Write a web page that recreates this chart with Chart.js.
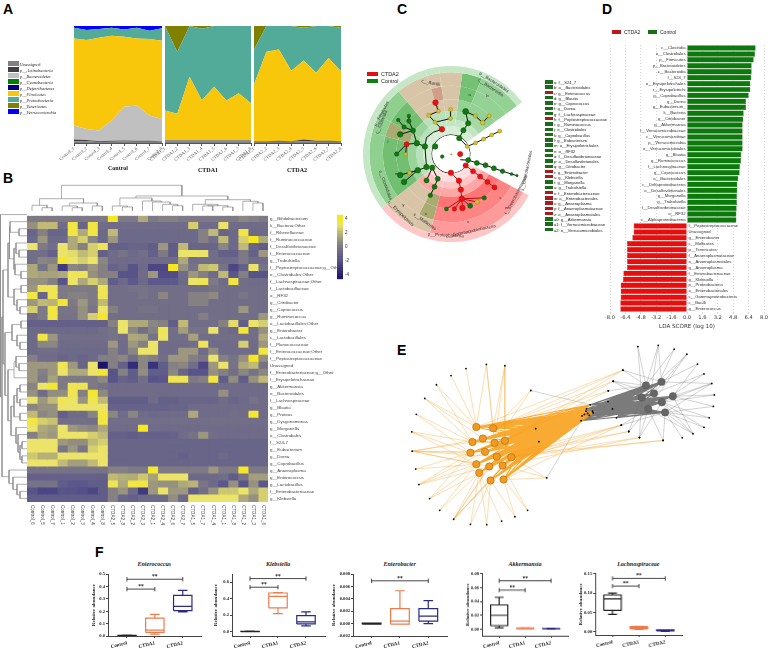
<!DOCTYPE html>
<html>
<head>
<meta charset="utf-8">
<script src="https://cdn.jsdelivr.net/npm/chart.js@4/dist/chart.umd.min.js"></script>
<style>
html, body { margin: 0; padding: 0; background: #fff; }
body { position: relative; width: 770px; height: 663px; overflow: hidden; font-family: "Liberation Sans", sans-serif; }
canvas { position: absolute; }
.txt { position: absolute; white-space: nowrap; line-height: 1; }
.swatch { position: absolute; }
</style>
</head>
<body>
<script>
// ---------- panel A: phyla share per sample (%)
const phylumNames = ['Unassigned', 'p__Actinobacteria', 'p__Bacteroidetes', 'p__Cyanobacteria', 'p__Deferribacteres', 'p__Firmicutes', 'p__Proteobacteria', 'p__Tenericutes', 'p__Verrucomicrobia'];
const phylumColors = ['#808080', '#404040', '#c0c0c0', '#008000', '#000080', '#f8c60a', '#52aa98', '#808000', '#0000ff'];
const noShare = [0, 0, 0, 0, 0, 0, 0, 0];
const controlStack = [
    [1.5, 1.5, 0.8, 1, 1.2, 1, 1, 1],
    [1.5, 1, 0.8, 1, 1, 1, 1, 0.5],
    [11.9, 9.5, 9, 17.4, 28.7, 30, 21.4, 19.1],
    noShare, noShare,
    [74.5, 76, 79.4, 72.3, 60, 57.4, 65.5, 66.8],
    [9.1, 8.5, 7.5, 6.8, 6.1, 9.1, 7.1, 10.6],
    noShare,
    [2, 3.5, 2.5, 1.5, 3, 1.5, 4, 2]
];
const ctda1Stack = [
    [1.2, 1.2, 1.2, 1.2, 1.2, 1.2, 1.2, 1.2],
    [1, 1, 1, 1, 1, 1, 1, 1],
    [0.3, 0.3, 0.3, 0.3, 0.3, 0.3, 0.3, 0.3],
    noShare, noShare,
    [25.2, 22.6, 54.1, 34.1, 45.5, 33.8, 40.1, 31.5],
    [72.3, 52.6, 43.4, 61.1, 52, 63.7, 57.4, 66],
    [0, 22.3, 0, 2.3, 0, 0, 0, 0],
    noShare
];
const ctda2Stack = [
    [1, 1, 1, 1, 1.5, 1, 1, 1],
    [0.5, 0.5, 1, 0.5, 1.5, 1, 1, 0.5],
    noShare, noShare, noShare,
    [48.5, 76.5, 78, 60.2, 67.6, 58, 70.6, 59.9],
    [30, 22, 20, 38.3, 27.9, 40, 27.4, 37.1],
    [20, 0, 0, 0, 1.5, 0, 0, 1.5],
    noShare
];

// ---------- panel B: heatmap
const heatCols = ['Control_6', 'Control_5', 'Control_7', 'Control_1', 'Control_2', 'Control_3', 'Control_4', 'Control_8', 'CTDA2_5', 'CTDA2_8', 'CTDA2_2', 'CTDA2_3', 'CTDA2_1', 'CTDA2_4', 'CTDA2_6', 'CTDA2_7', 'CTDA1_5', 'CTDA1_7', 'CTDA1_4', 'CTDA1_1', 'CTDA1_8', 'CTDA1_2', 'CTDA1_3', 'CTDA1_6'];
const heatRows = ['g__Bifidobacterium', 'k__Bacteria;Other', 'f__Rikenellaceae', 'f__Ruminococcaceae', 'f__Desulfovibrionaceae', 'f__Enterococcaceae', 'g__Trabulsiella', 'f__Peptostreptococcaceae;g__Other', 'o__Clostridiales;Other', 'f__Lachnospiraceae;Other', 'f__Lactobacillaceae', 'o__RF32', 'g__Citrobacter', 'g__Coprococcus', 'g__Ruminococcus', 'o__Lactobacillales;Other', 'g__Enterobacter', 'c__Lactobacillales', 'f__Planococcaceae', 'f__Enterococcaceae;Other', 'f__Peptostreptococcaceae', 'Unassigned', 'f__Enterobacteriaceae;g__Other', 'f__Erysipelotrichaceae', 'g__Akkermansia', 'o__Bacteroidales', 'f__Lachnospiraceae', 'g__Blautia', 'g__Proteus', 'g__Dysgonomonas', 'g__Morganella', 'o__Clostridiales', 'f__S24-7', 'g__Eubacterium', 'g__Dorea', 'g__Coprobacillus', 'g__Anaeroplasma', 'g__Enterococcus', 'g__Lactobacillus', 'f__Enterobacteriaceae', 'g__Klebsiella'];
const heatValues = [
    [0,0,0,0,0,0,0,0,4,0,0,1.5,0,0.3,0.3,0,0,0,0,0,0,0.5,0.3,0],
    [0.8,2,2,-0.7,3.5,-1,3.5,-0.7,-0.7,-0.7,-0.7,-0.7,-0.7,-0.7,-0.7,-0.7,2.5,-0.7,-0.7,3,-0.7,-0.7,-0.7,-0.7],
    [-1,0.3,-1,-1,3.5,1.5,3.5,-0.8,2,-0.8,-0.8,-0.8,-0.8,-0.8,-0.8,-0.8,-0.8,0.3,2,-1,-0.8,3.5,-0.8,-0.8],
    [-0.8,1,-0.8,-0.8,1.5,2.5,0.5,-0.8,1,-0.8,-0.8,-0.8,-0.8,-0.8,-0.8,-0.8,-0.8,0.3,-0.5,2,-0.8,2.5,4,1.5],
    [3,0,-0.5,3,1.5,0.3,2.5,3.3,-1.3,-1.3,-1,-1,-1.5,1,-1.5,2,-1,-1,-1,0.5,-0.8,2,-1,-1.5],
    [-0.5,-0.5,-1.3,3,2.8,2,2.5,-1.3,-0.7,-0.3,-0.8,-0.5,-1.3,0,-1.5,3,3,3,-0.5,-1.3,-1.3,0,-1.3,1],
    [-0.5,0.5,0.3,3.8,3,2.5,3,0.5,-0.7,-0.7,-0.7,-0.7,-0.7,-0.7,-0.7,1.5,-0.5,-0.5,-0.5,-0.7,-0.7,0,-0.7,-0.7],
    [1.5,-0.3,1,-3,0.5,0.3,1,0.3,-1.2,-0.8,-2,-0.8,-2.5,-2.5,4,0.8,-0.3,2,2.3,-0.3,-2.5,-1.3,3,-0.3],
    [1.5,1.3,1.3,1.5,3.3,3.3,0.8,0.3,0.3,-2,-2,-0.7,1,-2.3,-2.3,-0.7,1,0.2,-0.7,2,-1.8,0.2,-2,-2],
    [0.8,0.8,0.3,-2,3,1.5,2.5,1.5,-1.5,-0.8,-1.7,-0.8,-1.7,-1.7,-1.7,-0.8,3,3.3,0,-0.7,3.5,-0.5,-0.7,-0.7],
    [1,3.3,3.3,0,0,0,0,3.3,-0.5,-0.5,-0.3,-0.3,-0.5,-0.5,-0.5,-0.5,-0.5,-0.5,-0.3,-0.5,-0.5,-0.5,-0.5,-0.5],
    [3.5,-1,3.3,0,0.3,0.3,0,3.3,-0.5,-0.5,-0.5,-0.3,-0.5,0.5,-0.5,-0.5,0.3,0.3,0.6,-0.5,-0.5,-0.2,-0.5,-0.5],
    [1,2,1.8,3.8,0,1,0,2,-0.5,-0.5,-0.5,-0.5,-0.5,-0.5,-0.5,-0.5,0.3,0.3,-0.5,-0.5,-0.5,-0.5,-0.5,-0.5],
    [2.5,0,3.5,-0.2,-0.2,0.8,-0.2,3,0.3,-0.5,-0.5,-0.3,-0.3,-0.5,-0.5,-0.5,-0.5,-0.5,-0.5,-0.5,-0.5,1,-0.5,-0.5],
    [-0.5,0,3.5,-0.3,-0.3,0.8,2.5,3.8,-0.5,-0.5,-0.5,-0.5,-0.5,-0.5,-0.5,-0.5,-0.5,0.2,-0.5,-0.5,-0.5,-0.5,-0.5,1],
    [-1.3,-1.3,-1.3,-1.3,-1.3,-1.3,-1.3,-1.3,0.3,3,1.5,1.5,0.5,0.3,-1.5,2,-0.5,-0.5,-0.5,0.3,2.8,-1.5,3,2.5],
    [-0.8,-0.8,-0.8,-0.8,-0.8,-0.8,-0.8,-0.5,-0.3,3,0.5,-0.5,0.3,3.3,-0.5,1.2,-0.3,-0.3,3,-0.5,-0.8,3.8,-0.5,0.8],
    [-0.8,3.5,1,-0.5,-0.5,-0.5,-0.5,-0.5,-0.3,-0.5,1.5,1.3,-0.3,3,-0.5,-0.5,1.3,-0.5,-0.5,-0.5,-0.5,-0.5,-0.5,1.5],
    [-0.8,0.5,0.5,-0.7,-0.7,-0.7,-0.7,-0.7,1,-0.7,1,0.3,3,-0.7,-0.7,-0.7,-0.5,3.3,-0.7,-0.7,-0.7,2.5,-0.7,1],
    [-0.8,-0.5,-0.5,-0.8,-0.8,-0.8,-0.8,-0.8,0.3,-0.7,0.5,3,3,-0.7,-0.7,1,1,-0.7,0.7,-0.7,-0.7,-0.7,-0.7,3.5],
    [0.2,-0.7,-0.7,-1,-0.8,-1,-0.8,0.2,0.2,0.5,-0.5,0.5,0.2,-0.5,1,1,0.2,-0.2,3,0.2,-0.3,0.8,4,0.8],
    [1,1,1,3.3,1,-1,3,-4.5,0.2,-1.3,-3.5,0.5,-3.3,-1.5,0.3,0.5,-0.5,-2.5,1,3,-0.3,1.5,2,-0.3],
    [1,0.2,1,3,1.5,1.5,3,3.7,-2,0.3,-1.5,0.7,-1.5,-1.5,0.5,-1,-2,-2,0.8,0.2,-0.5,0.5,-0.3,0.5],
    [1,0,1.3,0,0,0,0,0.6,-2,-1.2,-1.5,-0.5,-2,-1.8,3.3,3.3,0,0.3,3.5,-1.5,0.7,-1.5,0.8,2],
    [0.4,3,3.7,0,3.3,3.3,0,-0.3,-0.7,-0.7,-0.7,-0.7,-0.7,-0.7,-0.7,-0.7,-0.7,-0.7,-0.7,-0.7,-0.7,-0.7,-0.7,-0.7],
    [0.8,-0.7,0.7,0.7,3.3,0.2,3.8,0.6,-0.7,-0.7,-0.7,-0.7,-0.7,-0.7,-0.7,-0.7,-0.7,-0.7,-0.7,0.8,-0.7,-0.7,-0.7,-0.7],
    [3,1,2,3.3,3,0.9,3.3,2,-1.5,-1.5,-1.5,-1.5,-0.7,-1.3,-1.3,-1,-1,-1,-1,-0.7,-1,-0.8,-0.3,-0.7],
    [0.5,0.8,0.8,3,3,3,3,3,-1.2,-1.2,-1.2,-1.2,-1.2,-1.2,-1,-1,-0.7,-0.7,-0.7,-0.7,-0.7,-0.7,-0.7,-0.7],
    [2,0.5,0.8,-1.3,-0.7,-0.7,0.4,3.5,0.5,-0.7,0.5,-0.7,-0.8,-0.6,-0.7,-0.7,1.5,-0.7,-0.7,-0.7,-0.5,-0.7,3.8,-0.7],
    [3.5,2.5,2.2,-0.5,-0.5,-0.5,-0.5,3.5,-0.5,-0.5,-0.5,-0.5,-0.5,-0.5,-0.5,-0.5,-0.5,-0.5,-0.5,-0.5,-0.5,-0.5,-0.5,-0.5],
    [3,1.5,1.2,3,1,0.7,0.5,1.5,-0.7,-0.7,-0.7,4,-0.7,-0.7,-0.7,-0.7,-0.7,-0.7,-0.7,-0.7,-0.7,-0.7,-0.7,-0.7],
    [0.2,1.3,1,3,3,3,2.5,2,-1.3,-1.3,-1.5,-1.3,-1.3,-1.3,-1.2,-0.7,-0.3,1,-0.5,-0.7,-0.7,-0.7,-0.7,-0.7],
    [3,3,3,1,0.7,0.7,2,2.5,-1,-1,-1,-1,-1,-1,-1,-1,-1,-1,-1,-1,-1,-1,-1,-1],
    [3,3,3,-0.2,1,-0.2,2.5,3,-1,-1,-1,-1,-1,-1,-1,-1,-1,-1,-1,-1,-1,-1,-1,-1],
    [2.3,1.7,1.7,3,3,3,3,3,-1,-1,-1,-1,-1,-1,-1,-1.3,-1,-1,-1,-0.8,-1,-1,-1,-1],
    [3,3,3,2,1.2,1.2,2,3,-1,-1,-1,-1,-1,-1,-1,-1,-1,-1,-1,-1,-1,-1,-1,-1],
    [-0.3,-0.3,-0.3,-0.3,-0.3,-0.3,-0.3,-0.3,0.3,0.3,0,0,3.8,0,0,0,0,0,1,0,0,3.8,0,0],
    [-1.3,-1.3,-1.3,-1.3,-1.3,-1.3,-1.3,-1.3,2,1.7,1.6,2.3,1.3,3,3,3,-0.8,-0.8,-0.8,-0.5,-1.5,-0.3,1.2,1.2],
    [-0.3,-0.3,-0.3,-1.5,-1.8,-1.8,-1.5,-1.5,3.3,1.5,3.5,3.5,1,0.8,0.8,1.5,1.8,-0.2,-0.8,-1.8,0.8,-2,0.8,-1.8],
    [-2,-2.5,-2.5,-2,-2,-2.2,-2.5,-1.5,0.3,0.9,-0.8,-3,1,3,1,1,-1.5,-0.5,0.8,2.3,2.3,3,1.5,2.5],
    [-1.5,-1.5,-1.5,-1.5,-1.5,-1.5,-1.5,-1.5,0.3,-1,-1.3,-0.8,-0.8,-0.8,0.7,-0.8,3,3,3,3,3,1.5,0.8,2.5]
];
const colorbarSteps = [-4.6,-4.2,-3.8,-3.4,-3,-2.6,-2.2,-1.8,-1.4,-1,-0.6,-0.2,0.2,0.6,1,1.4,1.8,2.2,2.6,3,3.4,3.8,4.2];
// merges: [a, b, height]; a, b are leaves, or 100 + index of an earlier merge
const colMerges = [[1,2,3.3],[0,100,5.7],[4,5,3.3],[3,102,5],[6,7,5],[103,104,8],[101,105,12.3],[9,10,4],[8,107,5],[14,15,5.3],[13,109,6.7],[12,110,9],[11,111,10],[108,112,13],[17,18,5],[19,20,4],[114,115,5.3],[16,116,6.7],[22,23,8],[21,118,9.7],[117,119,11.3],[113,120,15],[106,121,25.7]];
const rowMerges = [[2,3,8],[1,100,17],[5,6,8],[4,102,11],[8,9,6],[7,104,12],[103,105,13],[101,106,17.5],[10,11,6],[13,14,7],[12,109,10],[108,110,13],[107,111,19],[15,16,6],[18,19,7],[17,114,10],[113,115,15],[21,22,8],[20,117,11],[23,118,13],[24,25,7],[26,27,7],[120,121,10],[28,29,7],[122,123,13],[32,33,5],[34,35,5],[125,126,7],[31,127,9],[30,128,11],[124,129,16],[119,130,19],[116,131,22],[112,132,24],[39,40,7],[38,134,10],[37,135,14],[36,136,18],[133,137,25],[0,138,26.5]];

// ---------- panel C: cladogram
const claSpans = [14, 32, 64, 77, 13, 24, 53, 13, 22, 23, 9, 16];
const claRingWeights = [6.3, 13.4, 13.3, 11.7, 8.3, 6.7, 8, 0.7];
const claRingColors = [
    ['#c6e7c6','#c6e7c6','#fff','#ffc6c6','#ffc6c6','#ffc6c6','#c6e7c6','#c6e7c6','#c6e7c6','#c6e7c6','#c6e7c6','#c6e7c6'],
    ['#74c074','#94d194','#fff','#ff9a9a','#d8c4a6','#d8c4a6','#8fd08f','#8fd08f','#8fd08f','#d8c4a6','#d8c4a6','#d8c4a6'],
    ['#74c074','#94d194','#fff','#ff8484','#a9ab72','#d8c4a6','#72bf72','#a9ab72','#72bf72','#d8c4a6','#cf9f8a','#d8c4a6'],
    ['#94d194','#94d194','#fff','#ff7474','#a9ab72','#d8c4a6','#72bf72','#a9ab72','#72bf72','#d8c4a6','#d8c4a6','#d8c4a6'],
    ['#a6d9a6','#a6d9a6','#fff','#ffa6a6','#ffa6a6','#ffa6a6','#9ad49a','#9ad49a','#9ad49a','#b9e1b9','#b9e1b9','#b9e1b9'],
    ['#c4e5c4','#c4e5c4','#fff','#ffc4c4','#ffc4c4','#ffc4c4','#b9e1b9','#b9e1b9','#b9e1b9','#c4e5c4','#c4e5c4','#c4e5c4'],
    ['#d5edd5','#d5edd5','#fff','#ffe0e0','#ffe0e0','#ffe0e0','#d5edd5','#d5edd5','#d5edd5','#d5edd5','#d5edd5','#d5edd5'],
    ['#000','#000','#000','#000','#000','#000','#000','#000','#000','#000','#000','#000']
];
const claGreen = [[342,412,2.6],[355,387,2.6],[370,365,2.6],[362,328,3],[267,438,2.8],[235,438,2.8],[210,428,2.8],[198,388,2.5],[185,358,2.2],[170,377,2.2],[158,400,2.8],[152,355,1.8],[185,342,1.8],[158,528,2.8],[170,550,2.8],[213,513,2.8],[240,503,2.8],[147,462,2.2],[289,470,1.8],[370,481,2.5],[397,490,2.5],[424,497,2.5],[450,507,2.5],[477,516,2.2],[505,525,1.5],[522,530,1.2],[258,505,2.6],[240,545,2.5],[265,565,2.5],[275,540,2.5],[252,592,2.2],[302,635,2],[376,625,2.5],[420,600,2.2]];
const claYellow = [[392,342,2],[415,363,2.3],[435,342,2.1],[367,438,2],[393,427,2],[418,415,2],[443,402,2],[468,390,2],[267,362,2],[247,340,2.1],[277,327,2],[315,350,2],[315,322,2],[175,463,1.8],[187,521,2],[398,613,2.3],[317,463,0.7]];
const claRed = [[288,384,2.8],[268,300,2.8],[178,431,2.5],[345,462,2.6],[362,498,2.6],[385,516,2.5],[407,533,2.5],[430,550,2.5],[452,567,2.5],[316,521,2.7],[341,546,2.7],[347,574,2.7],[350,603,2.8],[327,635,2.2],[352,632,2.8]];
const claBlackLinks = [
    [[342,412],[355,387],[370,365],[362,328],[392,342],[415,363],[435,342]],
    [[288,384],[267,362],[247,340],[277,327],[268,300]],
    [[267,362],[315,350],[315,322]],
    [[235,438],[210,428],[198,388],[185,358],[185,342]],
    [[198,388],[170,377],[152,355]],
    [[198,388],[158,400]],
    [[210,428],[178,431],[147,462]],
    [[178,431],[175,463]],
    [[235,438],[240,503],[213,513],[187,521]],
    [[213,513],[158,528]],
    [[213,513],[170,550]],
    [[258,505],[240,545]],
    [[258,505],[275,540],[265,565],[252,592]],
    [[342,412],[367,438],[393,427],[418,415],[443,402],[468,390]],
    [[345,480],[370,481],[397,490],[424,497],[450,507],[477,516],[505,525],[522,530]],
    [[235,438],[240,410],[262,393],[288,384]]
];
const claRedLinks = [
    [[362,498],[385,516],[407,533],[430,550],[452,567]],
    [[316,521],[341,546],[347,574],[350,603],[327,635]],
    [[350,603],[352,632]], [[350,603],[302,635]], [[350,603],[376,625]], [[350,603],[398,613]], [[350,603],[420,600]]
];
const claCladeText = [
    ['p__Bacteroidetes',450,236,33], ['c__Bacteroidia',440,253,33], ['c__Bacilli',253,238,12],
    ['p__Firmicutes',100,335,-62], ['c__Clostridia',100,362,-68], ['o__Clostridiales',112,560,70],
    ['c__Erysipelotrichi',160,650,45], ['c__Mollicutes',235,675,35], ['p__Proteobacteria',300,718,3],
    ['c__Gammaproteobacteria',378,705,-12], ['o__Enterobacteriales',552,515,-78], ['f__Enterobacteriaceae',520,590,-62],
    ['a',375,275,0], ['b',430,280,0], ['j',120,420,0], ['m',147,525,0], ['x',238,650,0], ['y',168,622,0], ['v',370,675,0], ['w',490,630,0], ['s',470,600,0]
];
const claLegendLetters = ['a','b','c','d','e','f','g','h','i','j','k','l','m','n','o','p','q','r','s','t','u','v','w','x','y','z','a0','a1','a2'];
const claLegendNames = ['f__S24_7','o__Bacteroidales','g__Enterococcus','g__Blautia','g__Coprococcus','g__Dorea','f__Lachnospiraceae','f__Peptostreptococcaceae','g__Ruminococcus','o__Clostridiales','g__Coprobacillus','g__Eubacterium','o__Erysipelotrichales','o__RF32','f__Desulfovibrionaceae','o__Desulfovibrionales','g__Citrobacter','g__Enterobacter','g__Klebsiella','g__Morganella','g__Trabulsiella','f__Enterobacteriaceae','o__Enterobacteriales','g__Anaeroplasma','f__Anaeroplasmataceae','o__Anaeroplasmatales','g__Akkermansia','f__Verrucomicrobiaceae','o__Verrucomicrobiales'];
const claLegendRed = ['c','h','r','s','v','w','x','y','z'];

// ---------- panel D: LDA scores
const ldaNames = ['c__Clostridia','o__Clostridiales','p__Firmicutes','p__Bacteroidetes','c__Bacteroidia','f__S24_7','o__Erysipelotrichales','c__Erysipelotrichi','g__Coprobacillus','g__Dorea','g__Eubacterium_','k__Bacteria','g__Citrobacter','g__Akkermansia','f__Verrucomicrobiaceae','c__Verrucomicrobiae','p__Verrucomicrobia','o__Verrucomicrobiales','g__Blautia','g__Ruminococcus','f__Lachnospiraceae','g__Coprococcus','o__Bacteroidales','c__Deltaproteobacteria','o__Desulfovibrionales','g__Morganella','g__Trabulsiella','f__Desulfovibrionaceae','o__RF32','c__Alphaproteobacteria','f__Peptostreptococcaceae','Unassigned','g__Enterobacter','c__Mollicutes','p__Tenericutes','f__Anaeroplasmataceae','o__Anaeroplasmatales','g__Anaeroplasma','f__Enterobacteriaceae','g__Klebsiella','p__Proteobacteria','o__Enterobacteriales','c__Gammaproteobacteria','c__Bacilli','g__Enterococcus'];
const ldaScores = [7.13,7.07,6.93,6.72,6.72,6.68,6.58,6.58,6.41,6.13,6.13,5.89,5.85,5.78,5.78,5.78,5.78,5.78,5.64,5.61,5.5,5.47,5.33,5.23,5.23,5.19,5.19,5.16,5.13,5.13,-5.54,-5.54,-5.68,-6.23,-6.23,-6.23,-6.23,-6.23,-6.61,-6.65,-6.89,-6.89,-6.89,-6.93,-6.93];
const ldaTicks = [-8,-6.4,-4.8,-3.2,-1.6,0,1.6,3.2,4.8,6.4,8];

// ---------- panel E: network (positions)
const netOrangeHubs = [[252,275],[304,279],[240,322],[272,311],[308,325],[340,318],[234,356],[279,353],[315,368],[360,370],[252,392],[292,399],[333,396],[261,419],[296,443],[336,440]];
const netGreyHubs = [[775,144],[823,133],[800,169],[762,182],[858,178],[824,197],[782,218],[834,229]];
const netCore = [[595,232],[590,225],[600,238],[578,240],[575,255],[585,235],[610,225],[603,205],[612,230],[592,218]];
const netMiddle = [[435,280],[445,321],[672,218],[684,246],[658,195]];
const netOrangeLeaves = [[283,78],[340,82],[220,91],[174,113],[129,142],[93,185],[67,235],[53,290],[54,351],[65,407],[75,456],[108,500],[139,537],[182,565],[234,581],[284,582],[330,571],[371,557],[410,537],[420,160],[469,435],[704,96],[674,131],[659,161],[699,269],[722,289],[755,308],[828,317]];
const netOrangeLinks = [[0,1,4],[1,4,5],[0],[0],[0,2],[0,2,3],[2,6],[2,6,10],[2,3,6,7,10,11,8],[6,10],[6,7,10,11],[6,10,13],[10,13],[13,11,12,9,8,14],[13,14],[13,14],[13],[14,15],[15,12],[1,4],[12,15,9],[1,0,5],[1,5],[5,1],[15,9,12,8],[9,8],[9,12],[9,8]];
const netGreyLeaves = [[750,22],[813,18],[862,30],[901,46],[934,77],[954,108],[978,138],[986,174],[983,210],[970,246],[954,276],[920,296],[887,309],[828,317],[755,308],[722,289],[699,269],[704,96],[674,131],[659,161]];
const netGreyLinks = [[0,3],[1,0,6],[2,0],[3,2,6],[4,1],[5,2],[1,4,5,7],[4,5],[4,7],[7,5],[7,5],[7,6,4,5],[7],[7,6],[3,6,5],[6,3],[6,7],[0,1],[0,3,2],[0]];

// ---------- panel F: boxes as [low, q1, median, q3, high] per group
const groupNames = ['Control', 'CTDA1', 'CTDA2'];
const enterococcusBoxes = [[0.003,0.004,0.005,0.006,0.007],[0.015,0.03,0.048,0.145,0.175],[0.195,0.205,0.24,0.33,0.37]];
const klebsiellaBoxes = [[0,0.001,0.003,0.005,0.006],[0.22,0.29,0.43,0.47,0.475],[0.07,0.095,0.12,0.195,0.24]];
const enterobacterBoxes = [[-0.0001,-0.0001,0,0.0001,0.0001],[-0.0001,-0.0001,0.0004,0.0024,0.0053],[0,0.0004,0.0012,0.0024,0.0037]];
const akkermansiaBoxes = [[0.002,0.005,0.02,0.035,0.046],[0.0003,0.0005,0.001,0.0015,0.002],[0.0002,0.0004,0.0006,0.001,0.0012]];
const lachnoBoxes = [[0.045,0.055,0.085,0.095,0.1],[0.006,0.007,0.01,0.013,0.014],[0.001,0.002,0.003,0.005,0.005]];
const boxColors = ['#222222', '#ee7b4c', '#2b2b86'];

// ---------- helpers
function put(text, x, y, css) {
    const d = document.createElement('div');
    d.className = 'txt';
    d.textContent = text;
    d.style.cssText = 'left:' + x + 'px;top:' + y + 'px;' + (css || '');
    document.body.appendChild(d);
    return d;
}
function swatch(x, y, w, h, color) {
    const d = document.createElement('div');
    d.className = 'swatch';
    d.style.cssText = 'left:' + x + 'px;top:' + y + 'px;width:' + w + 'px;height:' + h + 'px;background:' + color;
    document.body.appendChild(d);
}
function chartAt(left, top, w, h, config) {
    const c = document.createElement('canvas');
    c.width = w; c.height = h;
    c.style.left = left + 'px'; c.style.top = top + 'px';
    c.style.width = w + 'px'; c.style.height = h + 'px';
    document.body.appendChild(c);
    config.options = config.options || {};
    config.options.responsive = false;
    config.options.animation = false;
    config.options.plugins = Object.assign({ legend: { display: false }, tooltip: { enabled: false } }, config.options.plugins || {});
    return new Chart(c, config);
}
function polylinePoints(lines) {
    const pts = [];
    lines.forEach(line => {
        line.forEach(p => pts.push({ x: p[0], y: p[1] }));
        pts.push({ x: NaN, y: NaN });
    });
    return pts;
}
function hiddenScale(min, max, reverse) {
    return { type: 'linear', display: false, min: min, max: max, reverse: !!reverse };
}
function linesDataset(lines, color, width) {
    return { data: polylinePoints(lines), showLine: true, borderColor: color, borderWidth: width, pointRadius: 0, spanGaps: false, tension: 0 };
}
function textPlugin(items, font, color) {
    // items are [text, xValue, yValue, rotationDeg], placed through the chart's scales
    return {
        id: 'textItems',
        afterDraw(chart) {
            const ctx = chart.ctx;
            ctx.save();
            ctx.font = font;
            ctx.fillStyle = color;
            ctx.textAlign = 'center';
            ctx.textBaseline = 'middle';
            items.forEach(it => {
                ctx.save();
                ctx.translate(chart.scales.x.getPixelForValue(it[1]), chart.scales.y.getPixelForValue(it[2]));
                ctx.rotate(it[3] * Math.PI / 180);
                ctx.fillText(it[0], 0, 0);
                ctx.restore();
            });
            ctx.restore();
        }
    };
}

// ---------- panel letters
[['A', 3, 1], ['B', 3, 170], ['C', 397, 1], ['D', 602, 1], ['E', 397, 342], ['F', 95, 544]].forEach(l => {
    put(l[0], l[1], l[2], 'font:bold 14px "Liberation Sans";color:#000');
});

// ---------- A
function stackedArea(left, plotW, prefix, stack) {
    const names = [1, 2, 3, 4, 5, 6, 7, 8].map(i => prefix + '_' + i);
    chartAt(left - 25, 24, plotW + 33, 143, {
        type: 'line',
        data: {
            labels: names,
            datasets: stack.map((vals, i) => ({
                data: vals,
                fill: i === 0 ? 'origin' : '-1',
                backgroundColor: phylumColors[i],
                borderWidth: 0,
                pointRadius: 0,
                tension: 0
            }))
        },
        options: {
            layout: { padding: { left: 25, right: 8, top: 2 } },
            scales: {
                x: {
                    offset: false,
                    grid: { drawOnChartArea: false, color: '#555', tickLength: 3 },
                    border: { color: '#555' },
                    ticks: { autoSkip: false, minRotation: 40, maxRotation: 40, padding: 0, color: '#555', font: { family: 'Liberation Serif', size: 4.5 } },
                    afterFit: s => { s.height = 24; }
                },
                y: { display: false, stacked: true, min: 0, max: 100 }
            }
        }
    });
}
stackedArea(74, 88, 'Control', controlStack);
stackedArea(164.5, 86.5, 'CTDA1', ctda1Stack);
stackedArea(254, 87, 'CTDA2', ctda2Stack);
put('Control', 108, 165, 'font:bold 6px "Liberation Serif";color:#111');
put('CTDA1', 198, 167, 'font:bold 6px "Liberation Serif";color:#111');
put('CTDA2', 287, 167, 'font:bold 6px "Liberation Serif";color:#111');
phylumNames.forEach((n, i) => {
    swatch(8, 61 + i * 6, 11, 5, phylumColors[i]);
    put(n, 20, 61.5 + i * 6, 'font:' + (i ? 'italic ' : '') + '4.4px "Liberation Serif";color:#222');
});

// ---------- B
const heatStops = [[-4.5,[27,20,110]],[-2,[88,84,138]],[-0.5,[114,110,136]],[0.5,[138,134,130]],[2,[192,186,118]],[3,[236,228,104]],[4,[247,232,30]]];
function heatColor(v) {
    if (v <= heatStops[0][0]) return 'rgb(' + heatStops[0][1] + ')';
    for (let i = 1; i < heatStops.length; i++) {
        if (v <= heatStops[i][0]) {
            const a = heatStops[i - 1], b = heatStops[i], t = (v - a[0]) / (b[0] - a[0]);
            return 'rgb(' + a[1].map((c, k) => Math.round(c + (b[1][k] - c) * t)).join(',') + ')';
        }
    }
    return 'rgb(' + heatStops[heatStops.length - 1][1] + ')';
}
chartAt(27, 211, 316, 325, {
    type: 'bar',
    data: {
        labels: heatRows,
        datasets: heatCols.map((name, j) => ({
            label: name,
            data: heatRows.map(() => 1),
            backgroundColor: heatRows.map((r, i) => heatColor(heatValues[i][j])),
            borderWidth: 0,
            barPercentage: 1,
            categoryPercentage: 1,
            inflateAmount: 0.5
        }))
    },
    options: {
        indexAxis: 'y',
        layout: { padding: { bottom: 34 } },
        scales: {
            x: { display: false, stacked: true, min: 0, max: 24 },
            y: {
                stacked: true,
                position: 'right',
                grid: { display: false, drawTicks: false },
                border: { display: false },
                ticks: { autoSkip: false, padding: 2, color: '#444', font: { family: 'Liberation Sans', size: 4.4 } },
                afterFit: s => { s.width = 75; }
            }
        }
    },
    plugins: [{
        id: 'columnNames',
        afterDraw(chart) {
            const ctx = chart.ctx, sx = chart.scales.x;
            ctx.save();
            ctx.font = '4.6px "Liberation Sans"';
            ctx.fillStyle = '#444';
            ctx.textBaseline = 'middle';
            heatCols.forEach((n, j) => {
                ctx.save();
                ctx.translate(sx.getPixelForValue(j + 0.5), chart.chartArea.bottom + 3);
                ctx.rotate(Math.PI / 2);
                ctx.fillText(n, 0, 0);
                ctx.restore();
            });
            ctx.restore();
        }
    }]
});
chartAt(337, 210, 20, 74, {
    type: 'bar',
    data: {
        labels: ['z'],
        datasets: colorbarSteps.map(v => ({
            data: [[v, v + 0.42]],
            backgroundColor: heatColor(v + 0.2),
            borderWidth: 0,
            barPercentage: 1,
            categoryPercentage: 1
        }))
    },
    options: {
        datasets: { bar: { grouped: false } },
        scales: {
            x: { display: false },
            y: {
                position: 'right',
                min: -4.6, max: 4.6,
                grid: { display: false, drawTicks: false },
                border: { display: false },
                ticks: { stepSize: 2, includeBounds: false, padding: 2, color: '#333', font: { family: 'Liberation Sans', size: 4.5 } },
                afterBuildTicks: s => { s.ticks = [-4, -2, 0, 2, 4].map(v => ({ value: v })); },
                afterFit: s => { s.width = 14; }
            }
        }
    }
});
function dendroLines(merges, leafCount, swap) {
    const centers = [];
    const heights = [];
    const lines = [];
    const pos = id => id >= 100 ? centers[id - 100] : id + 0.5;
    const hgt = id => id >= 100 ? heights[id - 100] : 0;
    const pt = (p, h) => swap ? [h, p] : [p, h];
    merges.forEach(m => {
        lines.push([pt(pos(m[0]), hgt(m[0])), pt(pos(m[0]), m[2]), pt(pos(m[1]), m[2]), pt(pos(m[1]), hgt(m[1]))]);
        centers.push((pos(m[0]) + pos(m[1])) / 2);
        heights.push(m[2]);
    });
    return lines;
}
chartAt(27, 184, 241, 27, {
    type: 'scatter',
    data: { datasets: [linesDataset(dendroLines(colMerges, 24, false), '#8c8c8c', 0.7)] },
    options: { scales: { x: hiddenScale(0, 24), y: hiddenScale(0, 27) } }
});
chartAt(0, 211, 27, 291, {
    type: 'scatter',
    data: { datasets: [linesDataset(dendroLines(rowMerges, 41, true), '#8c8c8c', 0.7)] },
    options: { scales: { x: hiddenScale(0, 27, true), y: hiddenScale(0, 41, true) } }
});

// ---------- C
chartAt(363, 66, 176, 176, {
    type: 'doughnut',
    data: {
        datasets: claRingColors.map((colors, i) => ({
            data: claSpans,
            backgroundColor: colors,
            borderWidth: 0,
            weight: claRingWeights[i]
        }))
    },
    options: { rotation: 8, cutout: 19, layout: { padding: 0 } }
});
function nodeDataset(nodes, color, edge) {
    return {
        data: nodes.map(n => ({ x: n[0], y: n[1] })),
        pointRadius: nodes.map(n => n[2]),
        backgroundColor: color,
        borderColor: edge,
        borderWidth: 0.5,
        showLine: false
    };
}
chartAt(345, 60, 240, 190, {
    type: 'scatter',
    data: {
        datasets: [
            nodeDataset(claGreen, '#0d7a0d', '#0a4f0a'),
            nodeDataset(claRed, '#f00f0f', '#a31010'),
            nodeDataset(claYellow, '#d8c21e', '#8d8320'),
            linesDataset(claBlackLinks, '#111', 1),
            linesDataset(claRedLinks, '#b01010', 1)
        ]
    },
    options: { scales: { x: hiddenScale(0, 720), y: hiddenScale(180, 750, true) } },
    plugins: [textPlugin(claCladeText, '4.4px "Liberation Sans"', '#333')]
});
swatch(367, 72, 11, 4, '#e01010');
swatch(367, 79, 11, 4, '#118011');
put('CTDA2', 381, 71, 'font:5.4px "Liberation Sans";color:#222');
put('Control', 381, 78, 'font:5.4px "Liberation Sans";color:#222');
claLegendNames.forEach((n, i) => {
    const y = 80.2 + i * 5.27;
    swatch(545, y, 7.5, 3.4, claLegendRed.includes(claLegendLetters[i]) ? '#a81c1c' : '#1a6b1a');
    put(claLegendLetters[i] + ': ' + n, 554, y - 0.2, 'font:4.1px "Liberation Sans";color:#222');
});

// ---------- D
chartAt(600, 45, 170, 285, {
    type: 'bar',
    data: {
        labels: ldaNames,
        datasets: [{
            data: ldaScores,
            backgroundColor: ldaScores.map(v => v > 0 ? '#0b7a0b' : '#e80e0e'),
            borderColor: ldaScores.map(v => v > 0 ? '#0a5a0a' : '#b51010'),
            borderWidth: 0.4,
            barPercentage: 0.92,
            categoryPercentage: 1
        }]
    },
    options: {
        indexAxis: 'y',
        layout: { padding: { left: 10, right: 6 } },
        scales: {
            x: {
                min: -8, max: 8,
                grid: { color: '#bbb', tickLength: 2, lineWidth: 0.6 },
                border: { display: false, dash: [1, 2] },
                afterBuildTicks: s => { s.ticks = ldaTicks.map(v => ({ value: v })); },
                ticks: { autoSkip: false, maxRotation: 0, padding: 1, color: '#333', font: { family: 'DejaVu Sans', size: 5.2 }, callback: v => v.toFixed(1) },
                title: { display: true, text: 'LDA SCORE (log 10)', color: '#333', padding: { top: 1, bottom: 0 }, font: { family: 'DejaVu Sans', size: 5.6 } },
                afterFit: s => { s.height = 18; }
            },
            y: { display: false }
        }
    },
    plugins: [{
        id: 'ldaNames',
        afterDatasetsDraw(chart) {
            const ctx = chart.ctx, zero = chart.scales.x.getPixelForValue(0);
            ctx.save();
            ctx.font = '4.2px "Liberation Sans"';
            ctx.fillStyle = '#333';
            ctx.textBaseline = 'middle';
            ldaNames.forEach((n, i) => {
                const right = ldaScores[i] < 0;
                ctx.textAlign = right ? 'left' : 'right';
                ctx.fillText(n, zero + (right ? 1.5 : -1.5), chart.scales.y.getPixelForValue(i));
            });
            ctx.restore();
        }
    }]
});
swatch(612, 30, 9, 4, '#c01818');
swatch(648, 30, 9, 4, '#167016');
put('CTDA2', 624, 29, 'font:5px "Liberation Sans";color:#222');
put('Control', 660, 29, 'font:5px "Liberation Sans";color:#222');

// ---------- E
const orangeCoreLines = [];
const greyCoreLines = [];
const orangeLines = [];
const greyLines = [];
netOrangeHubs.forEach(h => {
    netCore.forEach(c => orangeCoreLines.push([h, c]));
    orangeCoreLines.push([h, netMiddle[0]], [h, netMiddle[1]]);
});
netGreyHubs.forEach(h => {
    netCore.forEach(c => greyCoreLines.push([h, c]));
    greyCoreLines.push([h, netMiddle[2]], [h, netMiddle[3]], [h, netMiddle[4]]);
});
netOrangeLeaves.forEach((l, i) => netOrangeLinks[i].forEach(k => orangeLines.push([l, netOrangeHubs[k]])));
netGreyLeaves.forEach((l, i) => netGreyLinks[i].forEach(k => greyLines.push([l, netGreyHubs[k]])));
greyLines.push([netOrangeLeaves[19], netCore[7]], [netOrangeLeaves[20], netCore[4]]);
const allSmall = netCore.concat(netMiddle, netOrangeLeaves, netGreyLeaves);
chartAt(390, 335, 340, 200, {
    type: 'scatter',
    data: {
        datasets: [
            { data: netOrangeHubs.map(p => ({ x: p[0], y: p[1] })), pointRadius: 3.7, backgroundColor: '#f39a1e', borderColor: '#a86c12', borderWidth: 0.6 },
            { data: netGreyHubs.map(p => ({ x: p[0], y: p[1] })), pointRadius: 3.7, backgroundColor: '#666', borderColor: '#555', borderWidth: 0.5 },
            { data: allSmall.map(p => ({ x: p[0], y: p[1] })), pointRadius: 0.9, backgroundColor: '#000', borderWidth: 0 },
            linesDataset(orangeCoreLines, 'rgba(248,155,15,0.85)', 1.1),
            linesDataset(greyCoreLines, 'rgba(100,100,100,0.85)', 1.1),
            linesDataset(orangeLines, 'rgba(245,170,60,0.65)', 0.6),
            linesDataset(greyLines, 'rgba(120,120,120,0.55)', 0.6)
        ]
    },
    options: { scales: { x: hiddenScale(0, 1020), y: hiddenScale(0, 600, true) } }
});

// ---------- F
function boxPanel(opt) {
    const lines = [[], [], []];
    opt.boxes.forEach((b, g) => {
        const x = g + 1, w = 0.33, c = 0.17;
        lines[g].push(
            [[x - w, b[1]], [x + w, b[1]], [x + w, b[3]], [x - w, b[3]], [x - w, b[1]]],
            [[x - w, b[2]], [x + w, b[2]]],
            [[x, b[3]], [x, b[4]]], [[x - c, b[4]], [x + c, b[4]]],
            [[x, b[1]], [x, b[0]]], [[x - c, b[0]], [x + c, b[0]]]
        );
    });
    const dy = (opt.ymax - opt.ymin) * 0.035;
    const brackets = opt.brackets.map(b => [[[1, b[1] - dy], [1, b[1] + dy]], [[1, b[1]], [b[0], b[1]]], [[b[0], b[1] - dy], [b[0], b[1] + dy]]]).flat();
    const stars = opt.brackets.map(b => ['**', (1 + b[0]) / 2, b[1] + dy * 1.1, 0]);
    const canvasTop = 570;
    chartAt(opt.left - opt.yw, canvasTop, opt.w + opt.yw + 4, opt.bottom - canvasTop + 22, {
        type: 'scatter',
        data: {
            datasets: [
                linesDataset(brackets, '#333', 0.9),
                linesDataset(lines[0], boxColors[0], 1.2),
                linesDataset(lines[1], boxColors[1], 1.2),
                linesDataset(lines[2], boxColors[2], 1.2)
            ]
        },
        options: {
            layout: { padding: { top: opt.top - canvasTop, right: 4 } },
            scales: {
                x: {
                    type: 'linear',
                    min: opt.xmin, max: opt.xmax,
                    grid: { drawOnChartArea: false, color: '#444', tickLength: 2 },
                    border: { color: '#444', width: 1 },
                    afterBuildTicks: s => { s.ticks = [1, 2, 3].map(v => ({ value: v })); },
                    ticks: { autoSkip: false, minRotation: 14, maxRotation: 14, padding: 2, color: '#222', font: { family: 'Liberation Serif', size: 5, weight: 'bold' }, callback: v => groupNames[v - 1] },
                    afterFit: s => { s.height = 22; }
                },
                y: {
                    type: 'linear',
                    min: opt.ymin, max: opt.ymax,
                    grid: { drawOnChartArea: false, color: '#444', tickLength: 2 },
                    border: { color: '#444', width: 1 },
                    afterBuildTicks: s => { s.ticks = opt.yticks.map(v => ({ value: v })); },
                    ticks: { autoSkip: false, padding: 1, color: '#222', font: { family: 'Liberation Serif', size: 4.6, weight: 'bold' }, callback: v => v.toFixed(opt.dec) },
                    title: { display: true, text: 'Relative abundance', color: '#222', padding: 0, font: { family: 'Liberation Serif', size: 5, weight: 'bold' } },
                    afterFit: s => { s.width = opt.yw; }
                }
            }
        },
        plugins: [textPlugin(stars, 'bold 5.5px "Liberation Serif"', '#222')]
    });
    put(opt.title, opt.left + opt.w * 0.5 - 40, 560.5, 'width:80px;text-align:center;font:italic bold 6px "Liberation Serif";color:#222');
}
boxPanel({ title: 'Enterococcus', left: 107.7, w: 93.3, top: 574.3, bottom: 636.3, yw: 17, xmin: 0.321, xmax: 3.654, ymin: 0, ymax: 0.5, yticks: [0, 0.1, 0.2, 0.3, 0.4, 0.5], dec: 1, boxes: enterococcusBoxes, brackets: [[2, 0.38], [3, 0.46]] });
boxPanel({ title: 'Klebsiella', left: 231.7, w: 93, top: 574.3, bottom: 636.3, yw: 19, xmin: 0.357, xmax: 3.679, ymin: -0.052, ymax: 0.697, yticks: [0, 0.2, 0.4, 0.6], dec: 1, boxes: klebsiellaBoxes, brackets: [[2, 0.54], [3, 0.645]] });
boxPanel({ title: 'Enterobacter', left: 352.7, w: 94, top: 574, bottom: 636.3, yw: 22, xmin: 0.344, xmax: 3.66, ymin: -0.002, ymax: 0.008, yticks: [-0.002, 0, 0.002, 0.004, 0.006, 0.008], dec: 3, boxes: enterobacterBoxes, brackets: [[3, 0.0069]] });
boxPanel({ title: 'Akkermansia', left: 481.7, w: 86.6, top: 573.7, bottom: 635.7, yw: 17, xmin: 0.338, xmax: 3.65, ymin: -0.0096, ymax: 0.08, yticks: [0, 0.02, 0.04, 0.06, 0.08], dec: 2, boxes: akkermansiaBoxes, brackets: [[2, 0.0564], [3, 0.07]] });
boxPanel({ title: 'Lachnospiraceae', left: 595, w: 86.7, top: 573.7, bottom: 635.3, yw: 17, xmin: 0.343, xmax: 3.634, ymin: -0.0086, ymax: 0.15, yticks: [0, 0.05, 0.1, 0.15], dec: 2, boxes: lachnoBoxes, brackets: [[2, 0.118], [3, 0.138]] });
</script>
</body>
</html>
